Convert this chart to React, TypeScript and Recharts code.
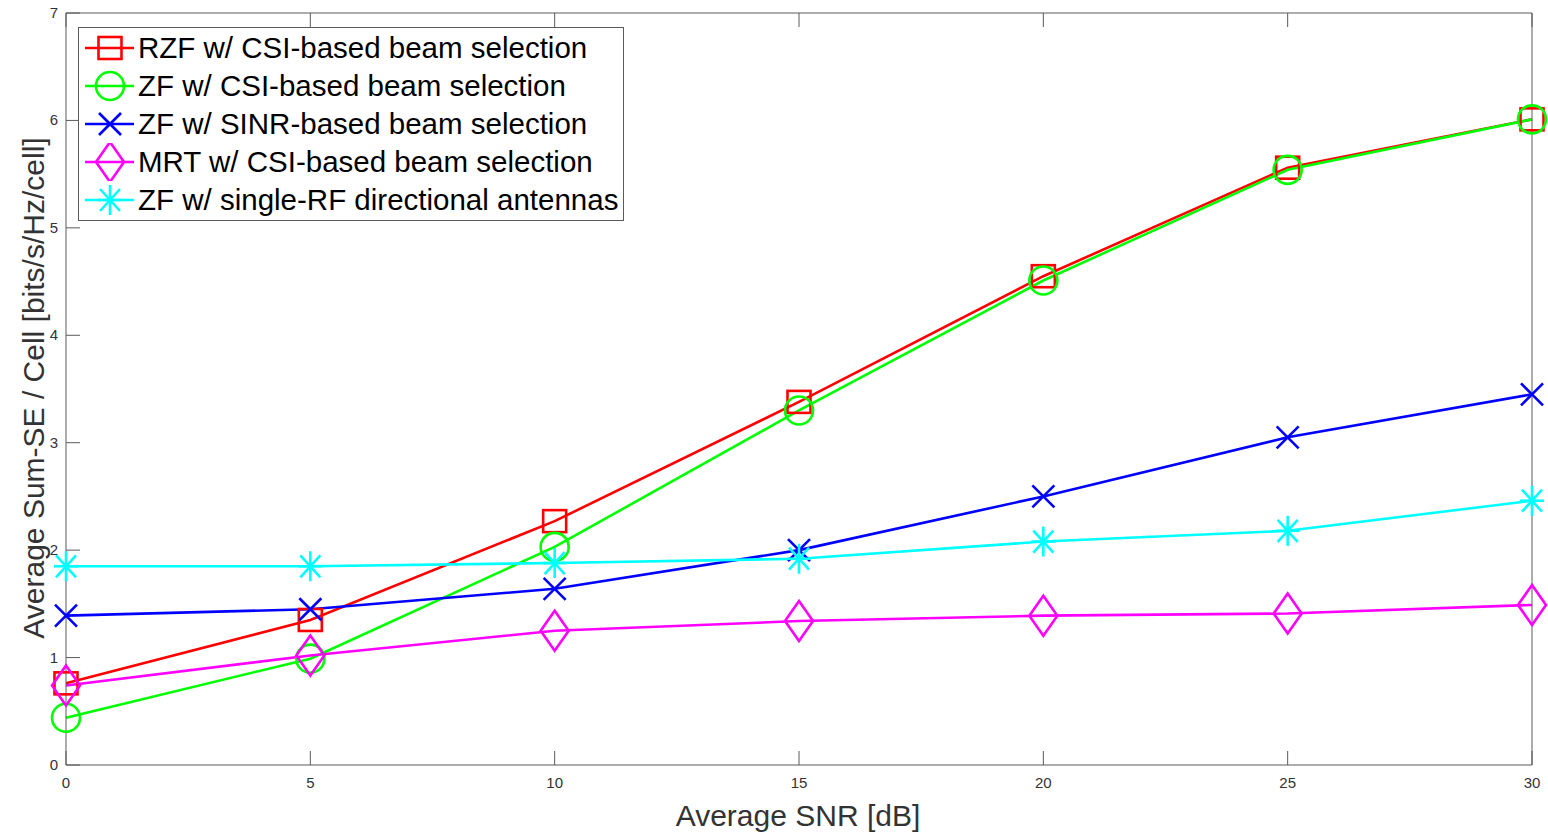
import React from 'react';
import { LineChart, Line, XAxis, YAxis } from 'recharts';

// Average SNR [dB]
const SNR = [0, 5, 10, 15, 20, 25, 30];
// Average sum-SE per cell [bits/s/Hz/cell]
const RZF_CSI = [0.76, 1.35, 2.27, 3.38, 4.55, 5.56, 6.01];
const ZF_CSI = [0.44, 0.99, 2.03, 3.3, 4.51, 5.54, 6.01];
const ZF_SINR = [1.39, 1.45, 1.64, 2.0, 2.5, 3.05, 3.45];
const MRT_CSI = [0.74, 1.02, 1.25, 1.34, 1.39, 1.41, 1.49];
const ZF_DIRECTIONAL = [1.85, 1.85, 1.88, 1.92, 2.08, 2.18, 2.46];

const X_TICKS = [0, 5, 10, 15, 20, 25, 30];
const Y_TICKS = [0, 1, 2, 3, 4, 5, 6, 7];

type Shape = 'square' | 'circle' | 'x' | 'diamond' | 'asterisk';

const SERIES: { key: string; name: string; color: string; shape: Shape; values: number[] }[] = [
  { key: 'rzfCsi', name: 'RZF w/ CSI-based beam selection', color: '#FF0000', shape: 'square', values: RZF_CSI },
  { key: 'zfCsi', name: 'ZF w/ CSI-based beam selection', color: '#00FF00', shape: 'circle', values: ZF_CSI },
  { key: 'zfSinr', name: 'ZF w/ SINR-based beam selection', color: '#0000FF', shape: 'x', values: ZF_SINR },
  { key: 'mrtCsi', name: 'MRT w/ CSI-based beam selection', color: '#FF00FF', shape: 'diamond', values: MRT_CSI },
  { key: 'zfDir', name: 'ZF w/ single-RF directional antennas', color: '#00FFFF', shape: 'asterisk', values: ZF_DIRECTIONAL },
];

const data = SNR.map((snr, i) => {
  const row: Record<string, number> = { snr };
  SERIES.forEach(s => { row[s.key] = s.values[i]; });
  return row;
});

const AXIS = '#5a5a5a';
const LABEL = '#333';
const TICK_LEN = 14;
const LW = 2.6;
const FONT = '"Liberation Sans", Arial, sans-serif';

function Marker({ shape, cx, cy, color }: { shape: Shape; cx: number; cy: number; color: string }) {
  const common = { stroke: color, strokeWidth: LW, fill: 'none' };
  switch (shape) {
    case 'square':
      return <rect x={cx - 11.5} y={cy - 11} width={23} height={22} {...common} />;
    case 'circle':
      return <circle cx={cx} cy={cy} r={14} {...common} />;
    case 'x':
      return (
        <g {...common}>
          <line x1={cx - 11} y1={cy - 11} x2={cx + 11} y2={cy + 11} />
          <line x1={cx - 11} y1={cy + 11} x2={cx + 11} y2={cy - 11} />
        </g>
      );
    case 'diamond':
      return <polygon points={`${cx},${cy - 20} ${cx + 14},${cy} ${cx},${cy + 20} ${cx - 14},${cy}`} {...common} />;
    case 'asterisk':
      return (
        <g {...common}>
          <line x1={cx - 12} y1={cy} x2={cx + 12} y2={cy} />
          <line x1={cx} y1={cy - 15} x2={cx} y2={cy + 15} />
          <line x1={cx - 10} y1={cy - 11} x2={cx + 10} y2={cy + 11} />
          <line x1={cx - 10} y1={cy + 11} x2={cx + 10} y2={cy - 11} />
        </g>
      );
  }
  return null;
}

const LeftTick = (p: any) => (
  <g>
    <line x1={p.x} x2={p.x + TICK_LEN} y1={p.y} y2={p.y} stroke={AXIS} />
    <text x={p.x - 8} y={p.y + 5} textAnchor="end" fontSize={15} fill={LABEL} fontFamily={FONT}>
      {p.payload.value}
    </text>
  </g>
);
const RightTick = (p: any) => (
  <line x1={p.x} x2={p.x - TICK_LEN} y1={p.y} y2={p.y} stroke={AXIS} />
);
const BottomTick = (p: any) => (
  <g>
    <line x1={p.x} x2={p.x} y1={p.y} y2={p.y - TICK_LEN} stroke={AXIS} />
    <text x={p.x} y={p.y + 23} textAnchor="middle" fontSize={15} fill={LABEL} fontFamily={FONT}>
      {p.payload.value}
    </text>
  </g>
);
const TopTick = (p: any) => (
  <line x1={p.x} x2={p.x} y1={p.y} y2={p.y + TICK_LEN} stroke={AXIS} />
);

const XTitle = () => (
  <text x={798} y={826} textAnchor="middle" fontSize={30} fill={LABEL} fontFamily={FONT}>
    Average SNR [dB]
  </text>
);
const YTitle = () => (
  <text x={0} y={0} transform="translate(44 388) rotate(-90)" textAnchor="middle" fontSize={30} fill={LABEL} fontFamily={FONT}>
    Average Sum-SE / Cell [bits/s/Hz/cell]
  </text>
);

const LegendBox = () => (
  <div
    style={{
      position: 'absolute',
      left: 78,
      top: 27,
      background: '#fff',
      border: `1px solid ${AXIS}`,
      width: 546,
      height: 194,
      boxSizing: 'border-box',
      paddingTop: 1,
    }}
  >
    {SERIES.map(s => (
      <div key={s.key} style={{ display: 'flex', alignItems: 'center', height: 38 }}>
        <svg width={59} height={38} style={{ flex: 'none' }}>
          <line x1={6} x2={55} y1={19} y2={19} stroke={s.color} strokeWidth={LW} />
          <Marker shape={s.shape} cx={31} cy={19} color={s.color} />
        </svg>
        <span style={{ fontFamily: FONT, fontSize: 29.5, lineHeight: '38px', color: '#000', whiteSpace: 'nowrap' }}>
          {s.name}
        </span>
      </div>
    ))}
  </div>
);

export default function App() {
  return (
    <div style={{ position: 'absolute', left: 0, top: 0, width: 1548, height: 833, background: '#fff' }}>
      <LineChart width={1548} height={833} data={data} margin={{ top: 12, right: 15, bottom: 38, left: 26 }}>
        <XAxis
          xAxisId="bottom"
          dataKey="snr"
          type="number"
          domain={[0, 30]}
          ticks={X_TICKS}
          height={30}
          tickSize={0}
          tickMargin={0}
          tick={BottomTick}
          stroke={AXIS}
          label={<XTitle />}
        />
        <XAxis
          xAxisId="top"
          orientation="top"
          dataKey="snr"
          type="number"
          domain={[0, 30]}
          ticks={X_TICKS}
          height={1}
          tickSize={0}
          tickMargin={0}
          tick={TopTick}
          stroke={AXIS}
        />
        <YAxis
          yAxisId="left"
          type="number"
          domain={[0, 7]}
          ticks={Y_TICKS}
          width={40}
          tickSize={0}
          tickMargin={0}
          tick={LeftTick}
          stroke={AXIS}
          label={<YTitle />}
        />
        <YAxis
          yAxisId="right"
          orientation="right"
          type="number"
          domain={[0, 7]}
          ticks={Y_TICKS}
          width={1}
          tickSize={0}
          tickMargin={0}
          tick={RightTick}
          stroke={AXIS}
        />
        {SERIES.map(s => (
          <Line
            key={s.key}
            xAxisId="bottom"
            yAxisId="left"
            dataKey={s.key}
            name={s.name}
            stroke={s.color}
            strokeWidth={LW}
            type="linear"
            isAnimationActive={false}
            dot={(p: any) => (
              <Marker key={`${s.key}-${p.index}`} shape={s.shape} cx={p.cx} cy={p.cy} color={s.color} />
            )}
            activeDot={false}
          />
        ))}
      </LineChart>
      <LegendBox />
    </div>
  );
}
